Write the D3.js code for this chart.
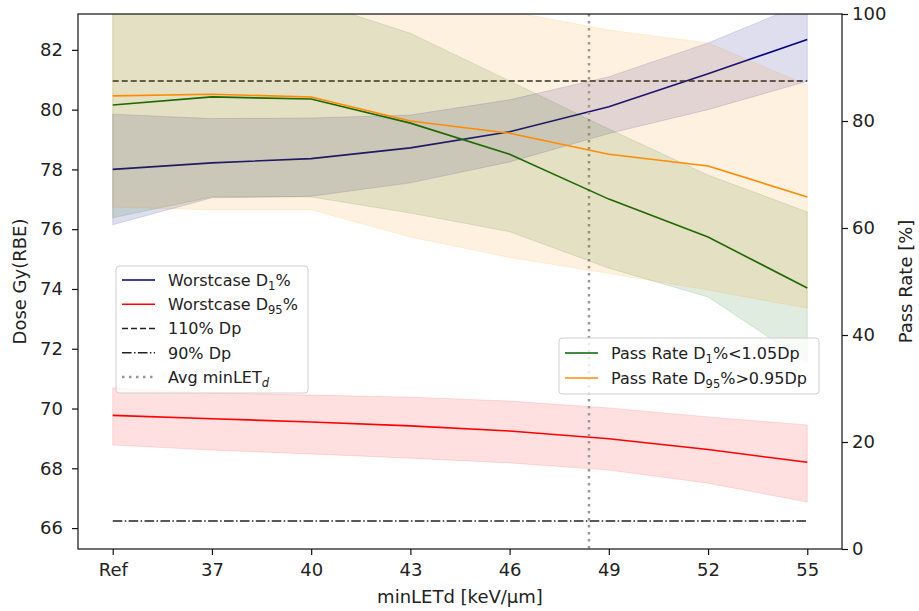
<!DOCTYPE html>
<html>
<head>
<meta charset="utf-8">
<script src="https://cdn.jsdelivr.net/npm/d3@7"></script>
<style>
  body { margin: 0; background: #fff; }
  svg { font-family: "DejaVu Sans", sans-serif; }
</style>
</head>
<body>
<svg id="chart" width="919" height="611"></svg>
<script>
// x categories ("Ref" is placed one step before 37)
const xLabels = ['Ref', '37', '40', '43', '46', '49', '52', '55']
const xValues = [34, 37, 40, 43, 46, 49, 52, 55]

// left axis: dose Gy(RBE)
const d1Worst = [78.0, 78.22, 78.36, 78.72, 79.26, 80.1, 81.2, 82.35]
const d1Upper = [79.85, 79.7, 79.72, 79.82, 80.33, 81.1, 82.23, 83.6]
const d1Lower = [76.15, 77.05, 77.1, 77.55, 78.25, 79.2, 80.0, 80.95]
const d95Worst = [69.77, 69.66, 69.55, 69.42, 69.25, 68.99, 68.63, 68.2]
const d95Upper = [70.69, 70.52, 70.45, 70.38, 70.25, 70.02, 69.72, 69.45]
const d95Lower = [68.78, 68.61, 68.48, 68.34, 68.18, 67.94, 67.5, 66.87]

// right axis: pass rate %
const passD1 = [83.0, 84.5, 84.1, 79.6, 73.8, 65.4, 58.3, 48.8]
const passD1Upper = [104, 103.2, 102.4, 96.4, 87.5, 78.5, 69.9, 63]
const passD1Lower = [61.9, 65.8, 65.8, 62.8, 59.3, 52.5, 47.1, 34.8]
const passD95 = [84.7, 85.0, 84.5, 80.0, 77.7, 73.8, 71.6, 65.8]
const passD95Upper = [105.5, 106.6, 105.6, 101.3, 100.5, 97, 94.6, 86.7]
const passD95Lower = [63.9, 63.4, 63.4, 58.3, 54.5, 51.5, 48.4, 45]

const prescribedDose = 73.6
const avgMinLET = 48.4

const leftTicks = [66, 68, 70, 72, 74, 76, 78, 80, 82]
const rightTicks = [0, 20, 40, 60, 80, 100]

const width = 919, height = 611
const margin = { top: 14, right: 77, bottom: 62, left: 78 }
const plotW = width - margin.left - margin.right
const plotH = height - margin.top - margin.bottom

const svg = d3.select('#chart')

const xScale = d3.scaleLinear().domain([32.95, 56.05]).range([0, plotW])
const yLeft = d3.scaleLinear().domain([65.3, 83.2]).range([plotH, 0])
const yRight = d3.scaleLinear().domain([0, 100]).range([plotH, 0])

svg.append('defs').append('clipPath').attr('id', 'plotClip')
  .append('rect').attr('width', plotW).attr('height', plotH)

const g = svg.append('g').attr('transform', `translate(${margin.left},${margin.top})`)
const content = g.append('g').attr('clip-path', 'url(#plotClip)')

function band (target, yScale, lower, upper, color, alpha) {
  const area = d3.area()
    .x((d, i) => xScale(xValues[i]))
    .y0((d, i) => yScale(lower[i]))
    .y1((d, i) => yScale(upper[i]))
  target.append('path')
    .attr('d', area(lower))
    .attr('fill', color)
    .attr('fill-opacity', alpha)
    .attr('stroke', color)
    .attr('stroke-opacity', alpha)
    .attr('stroke-width', 1)
}

function seriesLine (target, yScale, values, color) {
  const line = d3.line()
    .x((d, i) => xScale(xValues[i]))
    .y((d) => yScale(d))
  target.append('path')
    .attr('d', line(values))
    .attr('fill', 'none')
    .attr('stroke', color)
    .attr('stroke-width', 1.6)
}

// primary axes content
band(content, yLeft, d1Lower, d1Upper, '#000080', 0.13)
seriesLine(content, yLeft, d1Worst, '#000080')
band(content, yLeft, d95Lower, d95Upper, '#ff0000', 0.12)
seriesLine(content, yLeft, d95Worst, '#ff0000')

content.append('line')
  .attr('x1', xScale(xValues[0])).attr('x2', xScale(xValues[xValues.length - 1]))
  .attr('y1', yLeft(prescribedDose * 1.1)).attr('y2', yLeft(prescribedDose * 1.1))
  .attr('stroke', '#222').attr('stroke-width', 1.6).attr('stroke-dasharray', '6 3')
content.append('line')
  .attr('x1', xScale(xValues[0])).attr('x2', xScale(xValues[xValues.length - 1]))
  .attr('y1', yLeft(prescribedDose * 0.9)).attr('y2', yLeft(prescribedDose * 0.9))
  .attr('stroke', '#222').attr('stroke-width', 1.5).attr('stroke-dasharray', '9.6 2.4 1.5 2.4')
content.append('line')
  .attr('x1', xScale(avgMinLET)).attr('x2', xScale(avgMinLET))
  .attr('y1', 0).attr('y2', plotH)
  .attr('stroke', '#999').attr('stroke-width', 2.5).attr('stroke-dasharray', '2.5 4.5')

// legend helpers (page coordinates)
function legendFrame (x, y, w, h) {
  svg.append('rect')
    .attr('x', x).attr('y', y).attr('width', w).attr('height', h)
    .attr('rx', 3).attr('ry', 3)
    .attr('fill', '#fff').attr('fill-opacity', 0.8)
    .attr('stroke', '#d0d0d0').attr('stroke-width', 1)
}

// parts: plain strings, or { sub, italic } for a subscript
function legendEntry (x, y, style, parts) {
  svg.append('line')
    .attr('x1', x).attr('x2', x + 33).attr('y1', y).attr('y2', y)
    .attr('stroke', style.color).attr('stroke-width', style.width || 1.6)
    .attr('stroke-dasharray', style.dash || null)
  const text = svg.append('text')
    .attr('x', x + 46).attr('y', y + 5.8)
    .attr('font-size', 16).attr('fill', '#222')
  let shift = 0
  parts.forEach((p) => {
    if (typeof p === 'string') {
      text.append('tspan').text(p).attr('dy', shift ? -shift : null)
      shift = 0
    } else {
      text.append('tspan').text(p.sub)
        .attr('font-size', 11.5)
        .attr('dy', 4)
        .attr('font-style', p.italic ? 'italic' : null)
      shift = 4
    }
  })
}

legendFrame(116, 266, 192, 127)
legendEntry(122, 280, { color: '#000080' }, ['Worstcase D', { sub: '1' }, '%'])
legendEntry(122, 304.3, { color: '#ff0000' }, ['Worstcase D', { sub: '95' }, '%'])
legendEntry(122, 328.5, { color: '#222', dash: '6 3' }, ['110% Dp'])
legendEntry(122, 352.8, { color: '#222', width: 1.5, dash: '9.6 2.4 1.5 2.4' }, ['90% Dp'])
legendEntry(122, 377, { color: '#999', width: 2.5, dash: '2.5 4.5' }, ['Avg minLET', { sub: 'd', italic: true }])

// secondary (twin) axes content
const content2 = g.append('g').attr('clip-path', 'url(#plotClip)')
band(content2, yRight, passD1Lower, passD1Upper, '#006400', 0.12)
seriesLine(content2, yRight, passD1, '#006400')
band(content2, yRight, passD95Lower, passD95Upper, '#ff8c00', 0.12)
seriesLine(content2, yRight, passD95, '#ff8c00')

// frame
g.append('rect')
  .attr('width', plotW).attr('height', plotH)
  .attr('fill', 'none').attr('stroke', '#111').attr('stroke-width', 1.2)

// axes
const xAxis = d3.axisBottom(xScale)
  .tickValues(xValues)
  .tickFormat((d, i) => xLabels[i])
  .tickSize(6).tickPadding(8)
const yAxisLeft = d3.axisLeft(yLeft).tickValues(leftTicks).tickSize(6).tickPadding(9)
const yAxisRight = d3.axisRight(yRight).tickValues(rightTicks).tickSize(6).tickPadding(4)

function styleAxis (sel) {
  sel.select('.domain').remove()
  sel.selectAll('.tick line').attr('stroke', '#111').attr('stroke-width', 1.2)
  sel.selectAll('.tick text')
    .attr('font-family', '"DejaVu Sans", sans-serif')
    .attr('font-size', 18).attr('fill', '#222')
}

g.append('g').attr('transform', `translate(0,${plotH})`).call(xAxis).call(styleAxis)
g.append('g').call(yAxisLeft).call(styleAxis)
g.append('g').attr('transform', `translate(${plotW},0)`).call(yAxisRight).call(styleAxis)

// axis titles
svg.append('text')
  .attr('x', margin.left + plotW / 2).attr('y', 603)
  .attr('text-anchor', 'middle').attr('font-size', 18).attr('fill', '#222')
  .text('minLETd [keV/\u03bcm]')
svg.append('text')
  .attr('transform', `translate(26,${margin.top + plotH / 2}) rotate(-90)`)
  .attr('text-anchor', 'middle').attr('font-size', 18).attr('fill', '#222')
  .text('Dose Gy(RBE)')
svg.append('text')
  .attr('transform', `translate(912,${margin.top + plotH / 2}) rotate(-90)`)
  .attr('text-anchor', 'middle').attr('font-size', 18).attr('fill', '#222')
  .text('Pass Rate [%]')

// twin-axes legend
legendFrame(559, 338, 260, 56)
legendEntry(565, 353, { color: '#006400' }, ['Pass Rate D', { sub: '1' }, '%<1.05Dp'])
legendEntry(565, 378, { color: '#ff8c00' }, ['Pass Rate D', { sub: '95' }, '%>0.95Dp'])
</script>
</body>
</html>
